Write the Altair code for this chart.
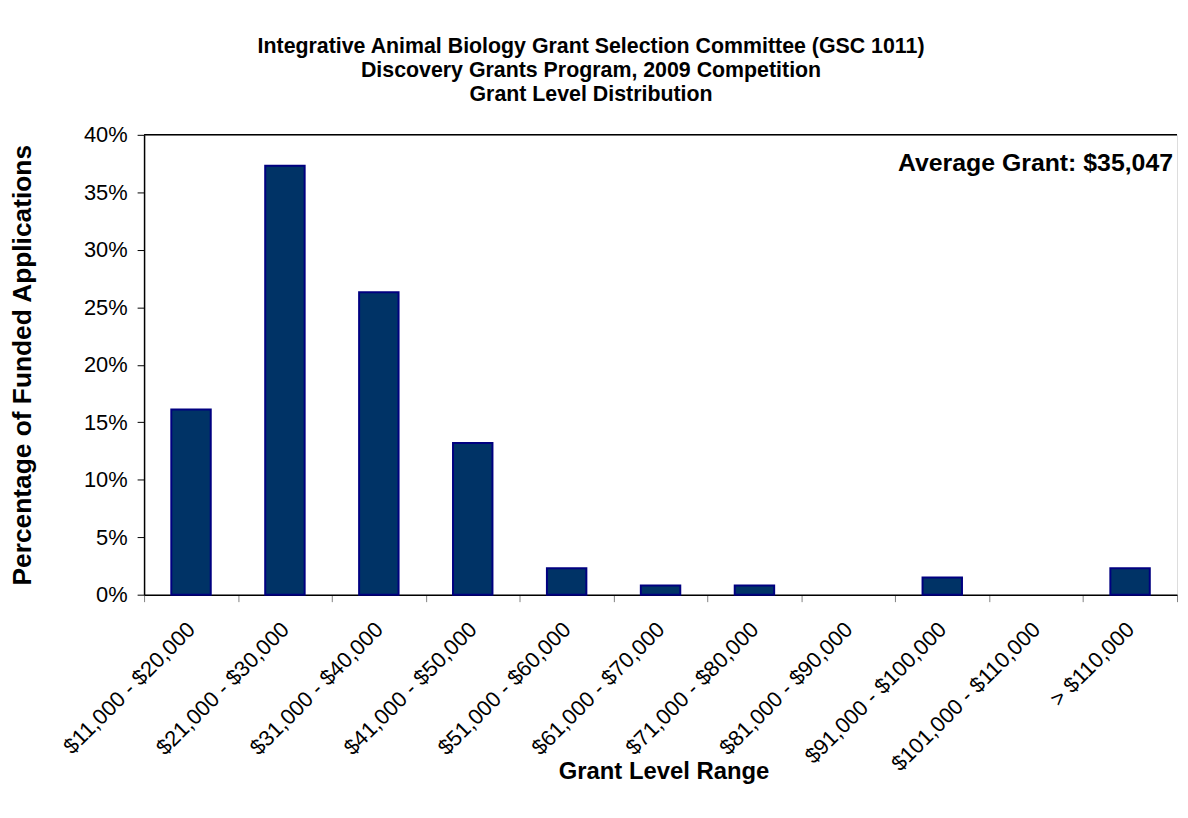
import altair as alt
import pandas as pd

categories = [
    "$11,000 - $20,000", "$21,000 - $30,000", "$31,000 - $40,000",
    "$41,000 - $50,000", "$51,000 - $60,000", "$61,000 - $70,000",
    "$71,000 - $80,000", "$81,000 - $90,000", "$91,000 - $100,000",
    "$101,000 - $110,000", "> $110,000",
]
percentages = [0.161, 0.373, 0.263, 0.132, 0.023, 0.008, 0.008, 0.0, 0.015, 0.0, 0.023]
y_ticks = [0, 0.05, 0.10, 0.15, 0.20, 0.25, 0.30, 0.35, 0.40]
title_lines = [
    "Integrative Animal Biology Grant Selection Committee (GSC 1011)",
    "Discovery Grants Program, 2009 Competition",
    "Grant Level Distribution",
]
annotation = "Average Grant: $35,047"

df = pd.DataFrame({"range": categories, "pct": percentages})

FONT = "Liberation Sans"

x_enc = alt.X(
    "range:N",
    sort=categories,
    scale=alt.Scale(domain=categories, paddingInner=0, paddingOuter=0),
    axis=alt.Axis(
        title="Grant Level Range",
        titleFontSize=24,
        titleFont=FONT,
        titleFontWeight="bold",
        titleColor="black",
        titleX=523,
        titleY=178,
        titleAlign="center",
        titleBaseline="middle",
        labelAngle=-45,
        labelAlign="right",
        labelBaseline="middle",
        labelFontSize=22,
        labelFont=FONT,
        labelColor="black",
        labelPadding=24,
        labelLimit=0,
        tickBand="extent",
        tickSize=7,
        tickColor="#808080",
        domainColor="black",
        domainWidth=1.5,
        labelOverlap=False,
    ),
)

y_enc = alt.Y(
    "pct:Q",
    scale=alt.Scale(domain=[0, 0.4], nice=False),
    axis=alt.Axis(
        title="Percentage of Funded Applications",
        titleFontSize=26.5,
        titleFont=FONT,
        titleFontWeight="bold",
        titleColor="black",
        titleX=-122,
        titleY=231.5,
        titleAlign="center",
        titleBaseline="middle",
        values=y_ticks,
        format=".0%",
        labelFontSize=22,
        labelFont=FONT,
        labelColor="black",
        labelPadding=10,
        tickSize=7,
        tickColor="black",
        domainColor="black",
        domainWidth=1.5,
        grid=False,
    ),
)

bars = alt.Chart(df).transform_filter(
    alt.datum.pct > 0
).mark_bar(
    width=alt.RelativeBandSize(0.42),
    color="#003366",
    stroke="#000080",
    strokeWidth=2,
).encode(x=x_enc, y=y_enc)

top_line = alt.Chart(pd.DataFrame({"top": [0.4]})).mark_rule(
    color="black", strokeWidth=1.5
).encode(y=alt.Y("top:Q"))

note = alt.Chart(pd.DataFrame({"t": [annotation]})).mark_text(
    align="right", baseline="middle", fontSize=25, fontWeight="bold",
    font=FONT, color="black",
).encode(text="t:N", x=alt.value(1036), y=alt.value(28))

chart = alt.layer(bars, top_line, note).properties(
    width=1040,
    height=463,
    title=alt.TitleParams(
        text=title_lines,
        fontSize=21.5,
        font=FONT,
        fontWeight="bold",
        color="black",
        anchor="middle",
        dx=-70,
        offset=19,
        lineHeight=24,
    ),
    autosize=alt.AutoSizeParams(type="none"),
    padding={"left": 137, "top": 125, "right": 3, "bottom": 200},
).configure_view(stroke=None).configure(background="white")

chart.save("out.html", embed_options={"renderer": "svg", "actions": False})
